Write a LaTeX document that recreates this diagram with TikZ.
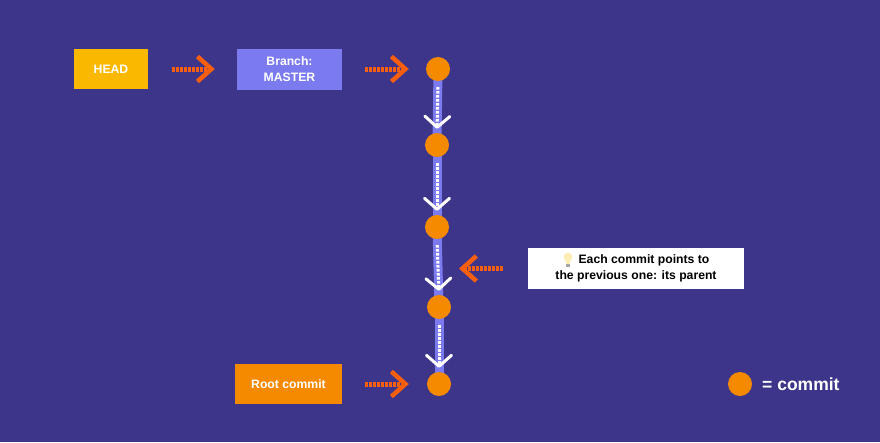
\documentclass[tikz,border=0pt]{standalone}
\usepackage{fontspec}
\setmainfont{Liberation Sans}
\usetikzlibrary{arrows.meta,backgrounds,calc}
\definecolor{pagebg}{HTML}{3D3589}
\definecolor{headcol}{HTML}{FBB800}
\definecolor{branchcol}{HTML}{7B7BEF}
\definecolor{commitcol}{HTML}{F58A00}
\definecolor{pointcol}{HTML}{F95F0F}
\definecolor{bulbcol}{HTML}{FCEDB4}
\tikzset{
  x=1pt,y=-1pt,
  label box/.style={minimum height=40.5pt,inner sep=0pt,align=center,font=\bfseries\fontsize{12.2}{16}\selectfont,text=white},
  commit/.style={circle,fill=commitcol,minimum size=24pt,inner sep=0pt},
  history bar/.style={line width=9pt,draw=branchcol},
  parent link/.style={draw=white,line width=3pt,dash pattern=on 2.5pt off 1.5pt,shorten <=6pt,shorten >=4pt,
    -{Straight Barb[length=11pt,width=25pt,line width=3pt,round]}},
  pointer/.style={draw=pointcol,line width=5pt,dash pattern=on 3pt off 1pt,
    -{Straight Barb[length=14pt,width=25pt,line width=4.5pt]}},
}
\begin{document}
\begin{tikzpicture}
  \useasboundingbox (0,0) rectangle (880,442);
  \begin{pgfonlayer}{background}
    \fill[pagebg] (0,0) rectangle (880,442);
  \end{pgfonlayer}

  % Labels on the left and the note on the right
  \node[label box,fill=headcol,minimum width=74pt] (head) at (111,69) {HEAD};
  \node[label box,fill=branchcol,minimum width=105pt] (branch) at (289.5,69.5) {Branch:\\MASTER};
  \node[label box,fill=commitcol,minimum width=107pt] (root) at (288.5,384) {Root commit};
  \node[label box,fill=white,text=black,minimum width=216pt] (note) at (636,268.5)
    {\hspace*{16pt}Each commit points to\\the previous one: its parent};

  % Commit history
  \node[commit] (c1) at (438,69) {};
  \node[commit] (c2) at (437,145) {};
  \node[commit] (c3) at (437,227) {};
  \node[commit] (c4) at (439,307) {};
  \node[commit] (c5) at (439,384) {};

  \begin{pgfonlayer}{background}
    \draw[history bar] (c1.center) -- (c2.center);
    \draw[history bar] (c2.center) -- (c3.center);
    \draw[history bar] (c3.center) -- (c4.center);
    \draw[history bar] (c4.center) -- (c5.center);
  \end{pgfonlayer}
  \draw[parent link] (c1.south) -- (c2.north);
  \draw[parent link] (c2.south) -- (c3.north);
  \draw[parent link] (c3.south) -- (c4.north);
  \draw[parent link] (c4.south) -- (c5.north);

  % Orange pointers
  \coordinate (noteTip) at (459,268.5);
  \draw[pointer,shorten <=24pt,shorten >=22pt] (head.east) -- (branch.west |- head.east);
  \draw[pointer,shorten <=23pt,shorten >=17pt] (branch.east |- c1) -- (c1.west);
  \draw[pointer,shorten <=23pt,shorten >=18pt] (root.east) -- (c5.west);
  \draw[pointer,shorten <=25pt] (note.west) -- (noteTip);

  % Light bulb in the note
  \fill[bulbcol] (568,257) circle (4.4pt);
  \fill[bulbcol] (565.5,260) -- (570.5,260) -- (569.6,264) -- (566.4,264) -- cycle;
  \fill[gray!70] (566.3,264.3) rectangle (569.7,266.6);

  % Legend
  \node[commit] (legend) at (740,384) {};
  \node[anchor=west,inner sep=0pt,text=white,font=\bfseries\fontsize{17.5}{20}\selectfont] (legendText) at (762,384) {= commit};
\end{tikzpicture}
\end{document}
